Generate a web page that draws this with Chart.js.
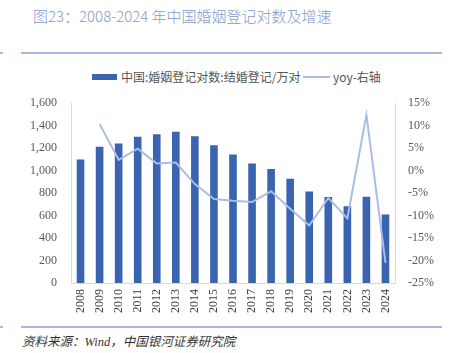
<!DOCTYPE html>
<html>
<head>
<meta charset="utf-8">
<script src="https://cdn.jsdelivr.net/npm/chart.js@4"></script>
<style>
  body { margin: 0; width: 449px; height: 353px; background: #fff; position: relative; overflow: hidden; font-family: "Noto Sans CJK SC", "Noto Sans", sans-serif; }
  .title { position: absolute; left: 33px; top: 5px; font-size: 15px; font-weight: 300; color: #8599ca; white-space: nowrap; }
  .rule { position: absolute; left: 21px; width: 421px; height: 2px; background: #a6b6de; }
  .dot { position: absolute; left: 0; width: 3px; height: 2px; background: #a6b6de; }
  .legend { position: absolute; top: 68px; font-size: 12px; color: #555; white-space: nowrap; }
  .sw { position: absolute; }
  .source { position: absolute; left: 22px; top: 331px; font-size: 12.5px; font-style: italic; color: #333; white-space: nowrap; font-family: "Liberation Serif", "Noto Sans CJK SC", serif; }
  #wrap { position: absolute; left: 0; top: 82px; width: 449px; height: 243px; }
</style>
</head>
<body>
<div class="title">图23：2008-2024 年中国婚姻登记对数及增速</div>
<div class="rule" style="top:52px"></div>
<div class="dot" style="top:52px"></div>

<div class="sw" style="left:92px;top:74px;width:25px;height:6px;background:#3a63b0"></div>
<div class="legend" style="left:121px">中国:婚姻登记对数:结婚登记/万对</div>
<div class="sw" style="left:303px;top:76px;width:27px;height:2px;background:#a9bde6"></div>
<div class="legend" style="left:333px">yoy-右轴</div>

<div id="wrap"><canvas id="chart"></canvas></div>

<div class="rule" style="top:326px"></div>
<div class="dot" style="top:326px"></div>
<div class="source">资料来源：Wind，中国银河证券研究院</div>

<script>
var years = ['2008', '2009', '2010', '2011', '2012', '2013', '2014', '2015', '2016',
    '2017', '2018', '2019', '2020', '2021', '2022', '2023', '2024'];
// 结婚登记（万对）
var marriages = [1098.3, 1212.4, 1241.0, 1302.4, 1323.6, 1346.9, 1306.7, 1224.7, 1142.8,
    1063.1, 1013.9, 927.3, 814.3, 764.3, 683.5, 768.2, 610.6];
// 同比（%）
var yoy = [null, 10.4, 2.4, 4.9, 1.6, 1.8, -3.0, -6.3, -6.7,
    -7.0, -4.6, -8.5, -12.2, -6.1, -10.6, 12.4, -20.5];

var tickFont = { family: 'Liberation Serif', size: 12 };

var ctx = document.getElementById('chart').getContext('2d');
new Chart(ctx, {
    data: {
        labels: years,
        datasets: [{
            type: 'line',
            label: 'yoy-右轴',
            data: yoy,
            yAxisID: 'y1',
            borderColor: '#a9bde6',
            borderWidth: 2,
            pointRadius: 0,
            tension: 0,
            order: 0
        }, {
            type: 'bar',
            label: '中国:婚姻登记对数:结婚登记/万对',
            data: marriages,
            yAxisID: 'y',
            backgroundColor: '#3a63b0',
            barPercentage: 0.4,
            categoryPercentage: 1,
            order: 1
        }]
    },
    options: {
        responsive: true,
        maintainAspectRatio: false,
        animation: false,
        layout: { padding: { top: 8, left: 0, right: 0, bottom: 0 } },
        plugins: {
            legend: { display: false },
            tooltip: { enabled: false }
        },
        scales: {
            x: {
                grid: { display: false, drawTicks: false },
                border: { color: '#d9d9d9' },
                ticks: {
                    color: '#404040',
                    font: tickFont,
                    minRotation: 90,
                    maxRotation: 90,
                    padding: 6
                },
                afterFit: function (scale) { scale.height = 42; }
            },
            y: {
                position: 'left',
                min: 0,
                max: 1600,
                grid: { display: false, drawTicks: false },
                border: { color: '#d9d9d9' },
                ticks: {
                    stepSize: 200,
                    color: '#595959',
                    font: tickFont,
                    padding: 14,
                    callback: function (v) { return v.toLocaleString('en-US'); }
                },
                afterFit: function (scale) { scale.width = 71; }
            },
            y1: {
                position: 'right',
                min: -25,
                max: 15,
                grid: { display: false, drawTicks: false },
                border: { color: '#d9d9d9' },
                ticks: {
                    stepSize: 5,
                    color: '#595959',
                    font: tickFont,
                    padding: 13,
                    callback: function (v) { return v + '%'; }
                },
                afterFit: function (scale) { scale.width = 54; }
            }
        }
    }
});
</script>
</body>
</html>
